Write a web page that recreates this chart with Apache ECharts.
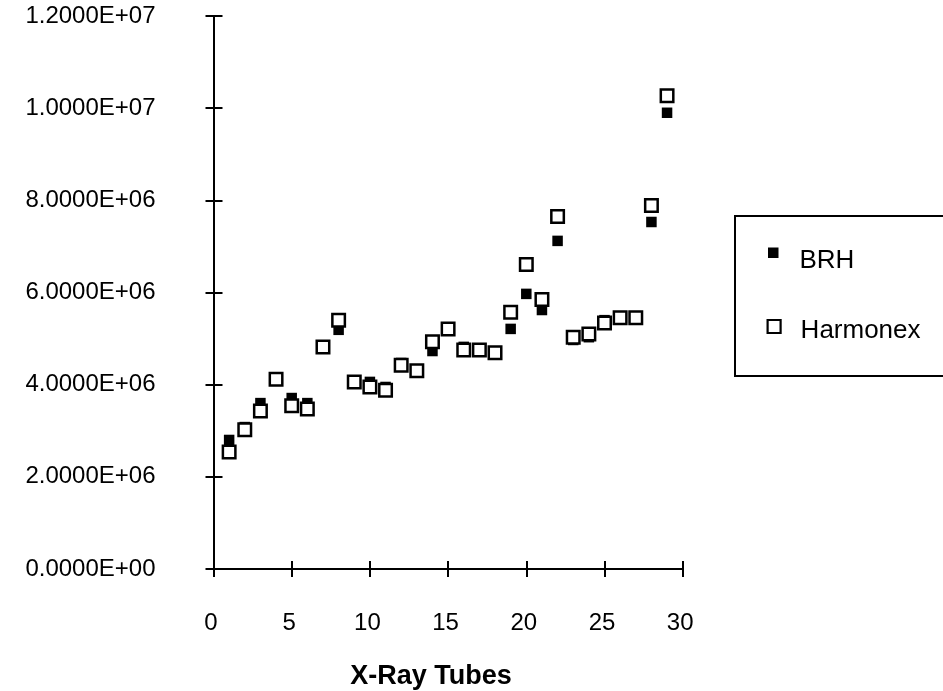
<!DOCTYPE html>
<html>
<head>
<meta charset="utf-8">
<script src="https://cdn.jsdelivr.net/npm/echarts@6/dist/echarts.min.js"></script>
<style>html,body{margin:0;padding:0;background:#fff}#c{width:943px;height:691px}</style>
</head>
<body>
<div id="c"></div>
<script>
const tubes = [1,2,3,4,5,6,7,8,9,10,11,12,13,14,15,16,17,18,19,20,21,22,23,24,25,26,27,28,29];
const brh = [2.80e6,3.08e6,3.60e6,4.12e6,3.71e6,3.60e6,4.82e6,5.19e6,4.06e6,4.06e6,3.95e6,4.47e6,4.30e6,4.73e6,5.21e6,4.82e6,4.75e6,4.69e6,5.21e6,5.97e6,5.62e6,7.12e6,4.97e6,5.03e6,5.40e6,5.45e6,5.45e6,7.53e6,9.90e6];
const harmonex = [2.54e6,3.02e6,3.43e6,4.12e6,3.54e6,3.47e6,4.82e6,5.40e6,4.06e6,3.95e6,3.88e6,4.42e6,4.30e6,4.93e6,5.21e6,4.75e6,4.75e6,4.69e6,5.57e6,6.61e6,5.85e6,7.65e6,5.03e6,5.10e6,5.34e6,5.45e6,5.45e6,7.89e6,10.27e6];
const xTicks = [0,5,10,15,20,25,30];
const yMax = 1.2e7, yStep = 2e6;

function sci(v){
  if (v === 0) return '0.0000E+00';
  const s = v.toExponential(4);
  const [m, e] = s.split('e');
  const sign = e[0] === '-' ? '-' : '+';
  let d = e.replace(/[+-]/, '');
  if (d.length < 2) d = '0' + d;
  return m + 'E' + sign + d;
}

const font = 'Liberation Sans, Arial, sans-serif';
const chart = echarts.init(document.getElementById('c'));
const axisLine = {show:true, onZero:false, lineStyle:{color:'#000', width:2}};
const option = {
  backgroundColor:'#fff',
  animation:false,
  grid:{left:213.5, right:260.3, top:16, bottom:122, containLabel:false, outerBoundsMode:'none'},
  xAxis:[{
    type:'value', min:xTicks[0], max:xTicks[xTicks.length-1], interval:5,
    axisLine:axisLine,
    axisTick:{show:true, inside:false, length:8, lineStyle:{color:'#000', width:2}},
    splitLine:{show:false},
    axisLabel:{color:'#000', fontFamily:font, fontSize:24, margin:42, padding:[0,5,0,0]},
    name:'X-Ray Tubes', nameLocation:'middle', nameGap:94,
    nameTextStyle:{color:'#000', fontFamily:font, fontSize:27, fontWeight:'bold', padding:[0,34,0,0]}
  },{
    type:'value', min:xTicks[0], max:xTicks[xTicks.length-1], interval:5, position:'bottom',
    axisLine:{show:false},
    axisTick:{show:true, inside:true, length:8, lineStyle:{color:'#000', width:2}},
    axisLabel:{show:false}, splitLine:{show:false}
  }],
  yAxis:[{
    type:'value', min:0, max:yMax, interval:yStep,
    axisLine:axisLine,
    axisTick:{show:true, inside:false, length:8, lineStyle:{color:'#000', width:2}},
    splitLine:{show:false},
    axisLabel:{color:'#000', fontFamily:font, fontSize:24, margin:58, align:'right', padding:[6,0,0,0], formatter:sci}
  },{
    type:'value', min:0, max:yMax, interval:yStep, position:'left',
    axisLine:{show:false},
    axisTick:{show:true, inside:true, length:9, lineStyle:{color:'#000', width:2}},
    axisLabel:{show:false}, splitLine:{show:false}
  }],
  legend:[{
    data:[{name:'BRH', icon:'path://M0,0L10.5,0L10.5,10.5L0,10.5ZM0,26.5L0,26.5'}],
    orient:'vertical', left:768, top:247.5,
    itemWidth:10.5, itemHeight:26.5, padding:0,
    textStyle:{color:'#000', fontFamily:font, fontSize:26, padding:[0,0,0,16]}
  },{
    data:[{name:'Harmonex', icon:'path://M0,0L13,0L13,13L0,13ZM0,22.4L0,22.4',
           itemStyle:{color:'#fff', borderColor:'#000', borderWidth:2.2}}],
    orient:'vertical', left:766.5, top:318.2,
    itemWidth:13, itemHeight:22.4, padding:0,
    textStyle:{color:'#000', fontFamily:font, fontSize:26, padding:[0,0,0,15]}
  }],
  graphic:[{
    type:'rect', left:734, top:215, z:-1,
    shape:{width:240, height:160},
    style:{fill:'#fff', stroke:'#000', lineWidth:2}
  }],
  series:[{
    name:'BRH', type:'scatter', xAxisIndex:0, yAxisIndex:0,
    symbol:'rect', symbolSize:10.5,
    itemStyle:{color:'#000', opacity:1},
    data: tubes.map((t,i)=>[t, brh[i]])
  },{
    name:'Harmonex', type:'scatter', xAxisIndex:0, yAxisIndex:0,
    symbol:'rect', symbolSize:12.5,
    itemStyle:{color:'#fff', borderColor:'#000', borderWidth:2.5, opacity:1},
    data: tubes.map((t,i)=>[t, harmonex[i]])
  }]
};
chart.setOption(option);
</script>
</body>
</html>
